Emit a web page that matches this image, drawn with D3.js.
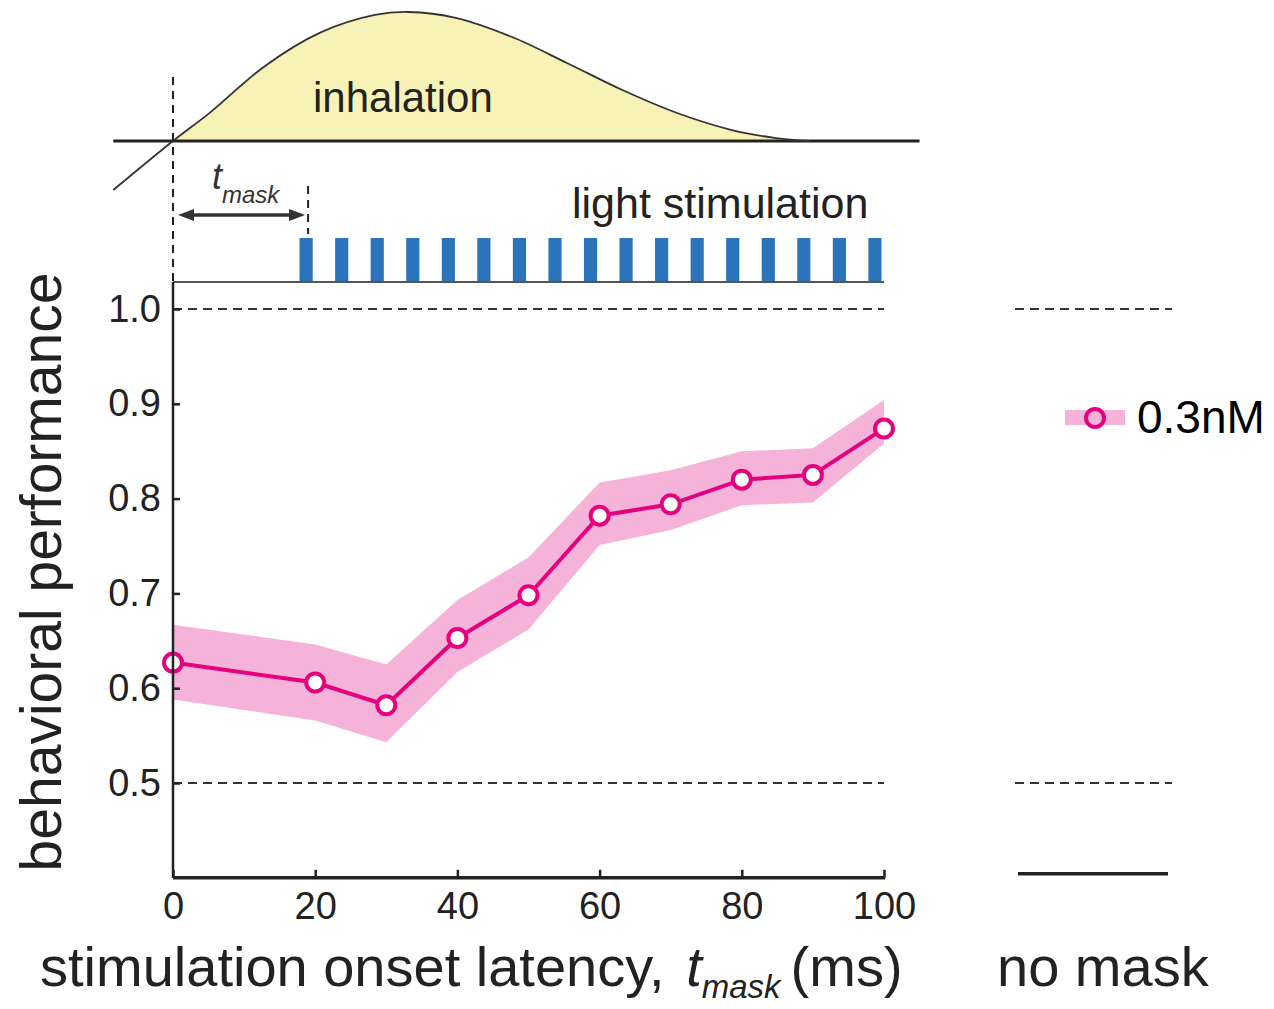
<!DOCTYPE html>
<html>
<head>
<meta charset="utf-8">
<script src="https://cdn.jsdelivr.net/npm/d3@7"></script>
<style>
  body { margin: 0; background: #fff; }
  svg { font-family: "Liberation Sans", Arial, sans-serif; }
  .tick text { font-size: 38px; fill: #222; }
</style>
</head>
<body>
<script>
// behavioral performance vs stimulation onset latency
var latency = [0, 20, 30, 40, 50, 60, 70, 80, 90, 100];
var performance = [0.627, 0.606, 0.582, 0.653, 0.698, 0.782, 0.794, 0.820, 0.825, 0.874];
var bandUpper = [0.667, 0.646, 0.625, 0.693, 0.738, 0.817, 0.830, 0.850, 0.853, 0.904];
var bandLower = [0.588, 0.566, 0.543, 0.617, 0.662, 0.751, 0.767, 0.793, 0.796, 0.858];

var xTicks = [0, 20, 40, 60, 80, 100];
var yTicks = [0.5, 0.6, 0.7, 0.8, 0.9, 1.0];
var refLevels = [0.5, 1.0]; // chance and perfect

// respiration trace (ms, normalized flow)
var breathTime = [-8.4, 0, 5.2, 12.9, 20.7, 28.4, 33.1, 39.9, 47.7, 55.4, 63.2, 70.9, 78.6, 84.8, 89.5, 105];
var breathFlow = [-0.38, 0, 0.22, 0.58, 0.84, 0.977, 1.0, 0.953, 0.806, 0.605, 0.395, 0.217, 0.085, 0.023, 0, 0];

// light pulse onsets (ms)
var pulseOnsets = [17.8, 22.8, 27.8, 32.8, 37.8, 42.8, 47.8, 52.8, 57.8, 62.8, 67.8, 72.8, 77.8, 82.8, 87.8, 92.8, 97.8];
var pulseWidth = 1.85;
var maskLatency = 19;

var seriesName = "0.3nM";

var svg = d3.select("body")
	.append("svg")
	.attr("width", 1274)
	.attr("height", 1009);

var x = d3.scaleLinear().domain([0, 100]).range([173, 884]);
var y = d3.scaleLinear().domain([0.4, 1.0]).range([877.8, 309]);
var flow = d3.scaleLinear().domain([0, 1]).range([141, 12]);

var pink = "#e4007f";
var pinkBand = "#f6b3d9";
var ink = "#222";

// ---- top panel: inhalation ----
var breath = breathTime.map(function(t, i){ return {t: t, f: breathFlow[i]}; });
var inhale = breath.filter(function(d){ return d.t >= 0 && d.t <= 89.5; });

svg.append("path")
	.datum(inhale)
	.attr("d", d3.area()
		.x(function(d){ return x(d.t); })
		.y0(flow(0))
		.y1(function(d){ return flow(d.f); })
		.curve(d3.curveCatmullRom.alpha(0.5)))
	.style("fill", "#f8f2b6");

svg.append("line")
	.attr("x1", x(-8.4)).attr("x2", x(105))
	.attr("y1", flow(0)).attr("y2", flow(0))
	.style("stroke", ink).style("stroke-width", 3);

svg.append("path")
	.datum(breath.filter(function(d){ return d.t <= 89.5; }))
	.attr("d", d3.line()
		.x(function(d){ return x(d.t); })
		.y(function(d){ return flow(d.f); })
		.curve(d3.curveCatmullRom.alpha(0.5)))
	.style("fill", "none")
	.style("stroke", "#333")
	.style("stroke-width", 1.8);

svg.append("text")
	.attr("x", 313).attr("y", 112)
	.style("font-size", "42px").style("fill", ink)
	.text("inhalation");

// onset dashed line
svg.append("line")
	.attr("x1", x(0)).attr("x2", x(0))
	.attr("y1", 77).attr("y2", 282)
	.style("stroke", ink).style("stroke-width", 2)
	.style("stroke-dasharray", "8,6");

svg.append("line")
	.attr("x1", x(maskLatency)).attr("x2", x(maskLatency))
	.attr("y1", 186).attr("y2", 234)
	.style("stroke", ink).style("stroke-width", 2)
	.style("stroke-dasharray", "8,6");

// t_mask arrow
var ay = 215, ax0 = x(0) + 5, ax1 = x(maskLatency) - 3;
svg.append("line")
	.attr("x1", ax0 + 6).attr("x2", ax1 - 6)
	.attr("y1", ay).attr("y2", ay)
	.style("stroke", "#333").style("stroke-width", 3.5);
svg.append("path")
	.attr("d", "M" + ax0 + "," + ay + "l16,-6l0,12z")
	.style("fill", "#333");
svg.append("path")
	.attr("d", "M" + ax1 + "," + ay + "l-16,-6l0,12z")
	.style("fill", "#333");

var tm = svg.append("text")
	.attr("x", 212).attr("y", 189)
	.style("fill", "#333").style("font-style", "italic");
tm.append("tspan").style("font-size", "36px").text("t");
tm.append("tspan").attr("dy", 14).style("font-size", "24px").text("mask");

svg.append("text")
	.attr("x", 572).attr("y", 218)
	.style("font-size", "43px").style("fill", ink)
	.text("light stimulation");

// light pulses
svg.selectAll(".pulse")
	.data(pulseOnsets)
	.enter()
	.append("rect")
	.attr("class", "pulse")
	.attr("x", function(d){ return x(d); })
	.attr("width", function(d){ return x(d + pulseWidth) - x(d); })
	.attr("y", 238)
	.attr("height", 44)
	.style("fill", "#2b74bb");

svg.append("line")
	.attr("x1", x(0)).attr("x2", x(100))
	.attr("y1", 282).attr("y2", 282)
	.style("stroke", "#555").style("stroke-width", 2);

// ---- main panel ----
svg.selectAll(".ref")
	.data(refLevels)
	.enter()
	.append("line")
	.attr("class", "ref")
	.attr("x1", x(0)).attr("x2", x(100))
	.attr("y1", function(d){ return y(d); })
	.attr("y2", function(d){ return y(d); })
	.style("stroke", "#333").style("stroke-width", 2.2)
	.style("stroke-dasharray", "9,6");

var pts = latency.map(function(t, i){
	return {t: t, v: performance[i], lo: bandLower[i], hi: bandUpper[i]};
});

svg.append("path")
	.datum(pts)
	.attr("d", d3.area()
		.x(function(d){ return x(d.t); })
		.y0(function(d){ return y(d.lo); })
		.y1(function(d){ return y(d.hi); }))
	.style("fill", pinkBand);

svg.append("path")
	.datum(pts)
	.attr("d", d3.line()
		.x(function(d){ return x(d.t); })
		.y(function(d){ return y(d.v); }))
	.style("fill", "none")
	.style("stroke", pink)
	.style("stroke-width", 4);

svg.selectAll(".pt")
	.data(pts)
	.enter()
	.append("circle")
	.attr("class", "pt")
	.attr("cx", function(d){ return x(d.t); })
	.attr("cy", function(d){ return y(d.v); })
	.attr("r", 9)
	.style("fill", "#fff")
	.style("stroke", pink)
	.style("stroke-width", 4);

// axes
var yAxis = svg.append("g")
	.attr("transform", "translate(" + x(0) + ",0)")
	.call(d3.axisLeft(y).tickValues(yTicks).tickFormat(d3.format(".1f")).tickSize(-7).tickPadding(12));
yAxis.select(".domain").remove();
yAxis.selectAll(".tick line").style("stroke", ink).style("stroke-width", 2.5);

svg.append("line")
	.attr("x1", x(0)).attr("x2", x(0))
	.attr("y1", 282).attr("y2", y(0.4))
	.style("stroke", ink).style("stroke-width", 2.5);

var xAxis = svg.append("g")
	.attr("transform", "translate(0," + y(0.4) + ")")
	.call(d3.axisBottom(x).tickValues(xTicks).tickSize(-8).tickPadding(14));
xAxis.select(".domain").remove();
xAxis.selectAll(".tick line").style("stroke", ink).style("stroke-width", 2.5);

svg.append("line")
	.attr("x1", x(0)).attr("x2", x(100) + 1)
	.attr("y1", y(0.4)).attr("y2", y(0.4))
	.style("stroke", ink).style("stroke-width", 3.5);

svg.append("text")
	.attr("transform", "translate(61," + 572 + ") rotate(-90)")
	.attr("text-anchor", "middle")
	.style("font-size", "57px").style("fill", ink)
	.text("behavioral performance");

var xl = svg.append("text")
	.attr("x", 40).attr("y", 986)
	.style("font-size", "56px").style("fill", ink);
xl.append("tspan").text("stimulation onset latency, ");
xl.append("tspan").attr("dx", 6).style("font-style", "italic").text("t");
xl.append("tspan").attr("dy", 12).style("font-style", "italic").style("font-size", "33px").text("mask");
xl.append("tspan").attr("dy", -12).attr("dx", 10).text("(ms)");

// ---- no mask panel ----
svg.selectAll(".refNm")
	.data(refLevels)
	.enter()
	.append("line")
	.attr("class", "refNm")
	.attr("x1", 1015).attr("x2", 1172)
	.attr("y1", function(d){ return y(d); })
	.attr("y2", function(d){ return y(d); })
	.style("stroke", "#333").style("stroke-width", 2.2)
	.style("stroke-dasharray", "9,6");

svg.append("line")
	.attr("x1", 1018).attr("x2", 1168)
	.attr("y1", y(0.4) - 4).attr("y2", y(0.4) - 4)
	.style("stroke", ink).style("stroke-width", 3.5);

svg.append("text")
	.attr("x", 997).attr("y", 986)
	.style("font-size", "56px").style("fill", ink)
	.text("no mask");

// legend
var lg = svg.append("g").attr("transform", "translate(1095,418)");
lg.append("rect")
	.attr("x", -30).attr("y", -8).attr("width", 60).attr("height", 15)
	.style("fill", pinkBand);
lg.append("circle")
	.attr("r", 9)
	.style("fill", pinkBand)
	.style("stroke", pink)
	.style("stroke-width", 4);
lg.append("text")
	.attr("x", 42).attr("y", 15)
	.style("font-size", "46px").style("fill", "#000")
	.text(seriesName);
</script>
</body>
</html>
